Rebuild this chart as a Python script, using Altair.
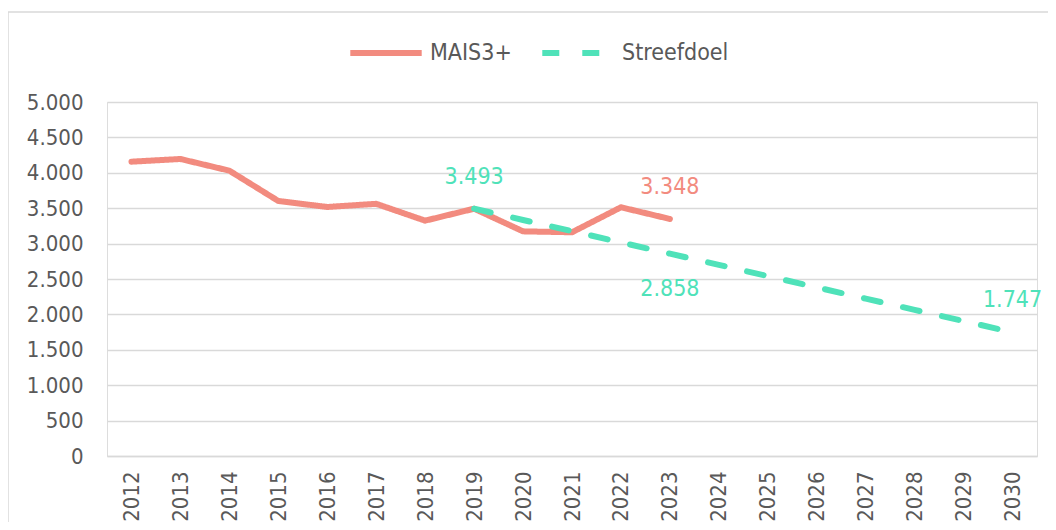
import altair as alt
import pandas as pd

years = [str(y) for y in range(2012, 2031)]

mais_years = ["2012", "2013", "2014", "2015", "2016", "2017", "2018", "2019", "2020", "2021", "2022", "2023"]
mais_values = [4157, 4195, 4030, 3602, 3517, 3562, 3324, 3493, 3173, 3160, 3513, 3348]

doel_years = ["2019", "2020", "2021", "2022", "2023", "2024", "2025", "2026", "2027", "2028", "2029", "2030"]
doel_values = [3493, 3334, 3176, 3017, 2858, 2700, 2541, 2382, 2223, 2064, 1906, 1747]

series_names = ["MAIS3+", "Streefdoel"]
series_colors = ["#F28B7F", "#4FE2B9"]

labels_above_years = ["2019", "2023", "2030"]
labels_above_values = [3493, 3348, 1747]
labels_above_series = ["Streefdoel", "MAIS3+", "Streefdoel"]
labels_below_years = ["2023"]
labels_below_values = [2858]
labels_below_series = ["Streefdoel"]

FONT = "DejaVu Sans Condensed, DejaVu Sans"
GREY = "#595959"
GRID = "#D9D9D9"
FS = 23

lines = pd.DataFrame(
    {"year": mais_years + doel_years,
     "value": mais_values + doel_values,
     "series": ["MAIS3+"] * len(mais_years) + ["Streefdoel"] * len(doel_years)}
)
above = pd.DataFrame({"year": labels_above_years, "value": labels_above_values, "series": labels_above_series})
below = pd.DataFrame({"year": labels_below_years, "value": labels_below_values, "series": labels_below_series})

fmt = "replace(format(datum.value, ','), ',', '.')"

x = alt.X("year:O", scale=alt.Scale(type="point", domain=years, padding=0.5), title=None,
          axis=alt.Axis(labelAngle=270, labelFontSize=22, labelFont=FONT, labelColor=GREY,
                        labelPadding=15, ticks=False, domainColor=GRID, domainWidth=1.5, grid=False))
y = alt.Y("value:Q", scale=alt.Scale(domain=[0, 5000], nice=False), title=None,
          axis=alt.Axis(values=list(range(0, 5001, 500)), labelExpr=fmt, labelFontSize=22,
                        labelFont=FONT, labelColor=GREY, labelPadding=24, ticks=False,
                        domain=False, gridColor=GRID, gridWidth=1.5))
legend = alt.Legend(title=None, orient="none", legendX=240, legendY=-88,
                    direction="horizontal", symbolType="stroke", symbolSize=5100,
                    symbolStrokeWidth=6, labelFontSize=FS, labelFont=FONT,
                    labelColor=GREY, columnPadding=18, labelOffset=5)
color = alt.Color("series:N", scale=alt.Scale(domain=series_names, range=series_colors), legend=legend)
dash = alt.StrokeDash("series:N", scale=alt.Scale(domain=series_names, range=[[1, 0], [17, 23]]),
                      legend=legend)

border = alt.Chart(pd.DataFrame({"a": [0]})).mark_rect(
    fillOpacity=0, stroke=GRID, strokeWidth=1.5
).encode(x=alt.value(-99), x2=alt.value(960), y=alt.value(-90), y2=alt.value(440))

line = alt.Chart(lines).mark_line(strokeWidth=6, strokeCap="round", strokeJoin="round").encode(
    x=x, y=y, color=color, strokeDash=dash, order=alt.Order("year:O")
)

text_color = alt.Color("series:N", scale=alt.Scale(domain=series_names, range=series_colors), legend=None)

text_above = alt.Chart(above).mark_text(fontSize=FS, font=FONT, dy=-32).transform_calculate(
    label=fmt
).encode(x=x, y=y, text="label:N", color=text_color)

text_below = alt.Chart(below).mark_text(fontSize=FS, font=FONT, dy=35).transform_calculate(
    label=fmt
).encode(x=x, y=y, text="label:N", color=text_color)

chart = alt.layer(border, line, text_above, text_below).properties(
    width=930, height=354,
    autosize=alt.AutoSizeParams(type="none"),
    padding={"left": 99, "top": 94, "right": 11, "bottom": 66},
).configure_view(stroke=None).configure(background="white")

chart.save("out.html", embed_options={"renderer": "svg", "actions": False})
